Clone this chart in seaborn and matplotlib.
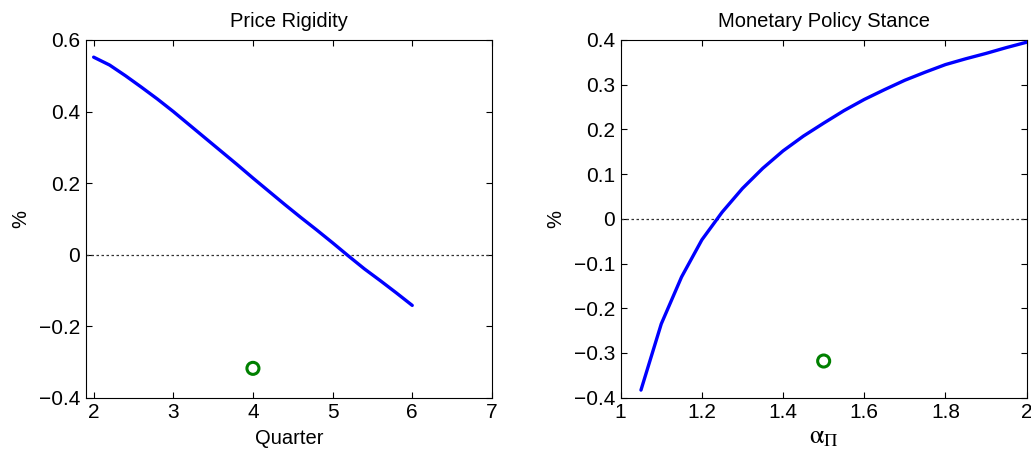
import matplotlib
matplotlib.use("Agg")
import matplotlib.pyplot as plt
import seaborn as sns
import pandas as pd

# ---- data ----
quarter = [2.0, 2.2, 2.4, 2.6, 2.8, 3.0, 3.2, 3.4, 3.6, 3.8, 4.0, 4.2, 4.4,
           4.6, 4.8, 5.0, 5.2, 5.4, 5.6, 5.8, 6.0]
rigidity = [0.552, 0.530, 0.500, 0.468, 0.435, 0.400, 0.363, 0.326, 0.289,
            0.252, 0.214, 0.177, 0.140, 0.104, 0.069, 0.033, -0.004, -0.040,
            -0.073, -0.107, -0.142]
rigidity_point_x = [4.0]
rigidity_point_y = [-0.318]

alpha_pi = [1.05, 1.10, 1.15, 1.20, 1.25, 1.30, 1.35, 1.40, 1.45, 1.50, 1.55,
            1.60, 1.65, 1.70, 1.75, 1.80, 1.85, 1.90, 1.95, 2.00]
stance = [-0.383, -0.235, -0.130, -0.047, 0.015, 0.068, 0.113, 0.152, 0.185,
          0.214, 0.242, 0.267, 0.289, 0.310, 0.328, 0.345, 0.358, 0.370,
          0.383, 0.395]
stance_point_x = [1.5]
stance_point_y = [-0.318]

left_xticks = [2, 3, 4, 5, 6, 7]
left_yticks = [-0.4, -0.2, 0, 0.2, 0.4, 0.6]
left_yticklabels = ["\u22120.4", "\u22120.2", "0", "0.2", "0.4", "0.6"]
right_xticks = [1, 1.2, 1.4, 1.6, 1.8, 2]
right_xticklabels = ["1", "1.2", "1.4", "1.6", "1.8", "2"]
right_yticks = [-0.4, -0.3, -0.2, -0.1, 0, 0.1, 0.2, 0.3, 0.4]
right_yticklabels = ["\u22120.4", "\u22120.3", "\u22120.2", "\u22120.1", "0",
                     "0.1", "0.2", "0.3", "0.4"]

# ---- style ----
sns.set_style("ticks")
plt.rcParams['font.family'] = ['Liberation Sans', 'DejaVu Sans']
plt.rcParams['mathtext.fontset'] = 'stix'
plt.rcParams['text.color'] = 'black'
plt.rcParams['axes.labelcolor'] = 'black'
FS = 15
TFS = 14.5

fig = plt.figure(figsize=(10.31, 4.57), dpi=100)
ax1 = fig.add_axes([0.0831, 0.1298, 0.394, 0.7827])
ax2 = fig.add_axes([0.602, 0.1298, 0.3938, 0.7827])

def style(ax):
    for s in ax.spines.values():
        s.set_visible(True)
        s.set_color("black")
        s.set_linewidth(0.8)
    ax.tick_params(direction="in", top=True, right=True, length=4, width=0.8,
                   labelsize=FS, colors="black", pad=4)
    ax.set_facecolor("white")

# left panel
df1 = pd.DataFrame({"x": quarter, "y": rigidity})
ax1.axhline(0, color="#333333", linestyle=(0, (2, 2)), linewidth=0.9, zorder=1)
sns.lineplot(data=df1, x="x", y="y", ax=ax1, color="#0000ff", linewidth=2.4,
             zorder=3)
sns.scatterplot(x=rigidity_point_x, y=rigidity_point_y, ax=ax1, s=75,
                marker="o", facecolors="none", edgecolors="green",
                linewidths=2.2, zorder=4)
ax1.set_xlim(1.9, 7)
ax1.set_ylim(-0.4, 0.6)
ax1.set_xticks(left_xticks)
ax1.set_xticklabels([str(t) for t in left_xticks])
ax1.set_yticks(left_yticks)
ax1.set_yticklabels(left_yticklabels)
ax1.set_title("Price Rigidity", fontsize=TFS, pad=9)
ax1.set_xlabel("Quarter", fontsize=TFS, labelpad=5)
ax1.set_ylabel("%", fontsize=TFS, labelpad=6)
style(ax1)

# right panel
df2 = pd.DataFrame({"x": alpha_pi, "y": stance})
ax2.axhline(0, color="#333333", linestyle=(0, (2, 2)), linewidth=0.9, zorder=1)
sns.lineplot(data=df2, x="x", y="y", ax=ax2, color="#0000ff", linewidth=2.4,
             zorder=3)
sns.scatterplot(x=stance_point_x, y=stance_point_y, ax=ax2, s=75,
                marker="o", facecolors="none", edgecolors="green",
                linewidths=2.2, zorder=4)
ax2.set_xlim(1, 2)
ax2.set_ylim(-0.4, 0.4)
ax2.set_xticks(right_xticks)
ax2.set_xticklabels(right_xticklabels)
ax2.set_yticks(right_yticks)
ax2.set_yticklabels(right_yticklabels)
ax2.set_title("Monetary Policy Stance", fontsize=TFS, pad=9)
ax2.set_xlabel(r"$\mathrm{\alpha}_{\mathrm{\Pi}}$", fontsize=FS + 4, labelpad=2)
ax2.set_ylabel("%", fontsize=TFS, labelpad=6)
style(ax2)

fig.savefig("out.png", dpi=100, facecolor="white")
